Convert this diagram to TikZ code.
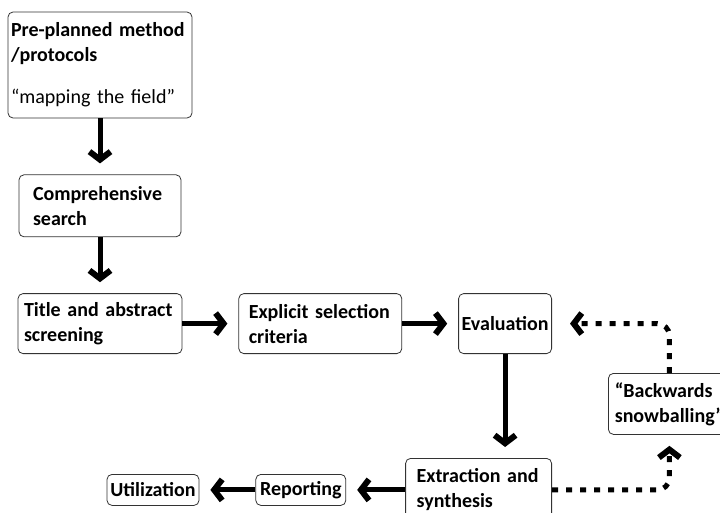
\documentclass[tikz,border=0pt]{standalone}
\usepackage{fontspec}
\setmainfont{Carlito}
\usetikzlibrary{arrows.meta, positioning}

\begin{document}
\begin{tikzpicture}[x=1pt, y=-1pt, ->, >={Straight Barb[length=8pt,width=21pt,line width=6pt]}, line width=5pt, shorten >=11pt, node distance=56pt,
  box/.style={draw=black!80, line width=0.8pt, rounded corners=5pt, align=left, inner ysep=0pt, inner xsep=3pt,
              font=\fontsize{20}{25}\selectfont\bfseries},
  dots/.style={dash pattern=on 6pt off 8pt, rounded corners=12pt}]

  \clip (0,0) rectangle (720,512);

  \node[box, text width=178pt, minimum height=106pt]                  (0) at (100,65)  {Pre-planned method\\/protocols\\[17pt]{\mdseries “mapping the field”}};
  \node[box, text width=134pt, inner xsep=14pt, minimum height=62pt]  (1) [below=of 0]  {Comprehensive\\search};
  \node[box, text width=152pt, inner xsep=6pt, minimum height=60pt]   (2) [below=of 1]  {Title and abstract\\screening};
  \node[box, text width=143pt, inner xsep=10pt, minimum height=60pt]  (3) [right=of 2]  {Explicit selection\\criteria};
  \node[box, minimum width=93pt, minimum height=60pt]                 (4) [right=of 3]  {Evaluation};
  \node[box, text width=124pt, inner xsep=11pt, minimum height=63pt]  (5) [below=104pt of 4.south east, anchor=north east] {Extraction and\\synthesis};
  \node[box, minimum width=90pt, minimum height=31pt]                 (6) [left=59pt of 5] {Reporting};
  \node[box, minimum width=92pt, minimum height=31pt]                 (7) [left=of 6]   {Utilization};
  \node[box, inner xsep=2pt, minimum width=122pt, minimum height=61pt] (8) [below right=19pt and 56pt of 4] {“Backwards\\snowballing”};

\path[->]
(0)	edge (1)
(1)	edge (2)
(2)	edge (3)
(3)	edge (4)
(4)	edge (4 |- 5.north)
(5)	edge (6)
	edge [dots, to path={-| (\tikztotarget)}] (8)
(6)	edge (7)
(8)	edge [dots, shorten >=18pt, to path={|- (\tikztotarget)}] (4);

\end{tikzpicture}
\end{document}
